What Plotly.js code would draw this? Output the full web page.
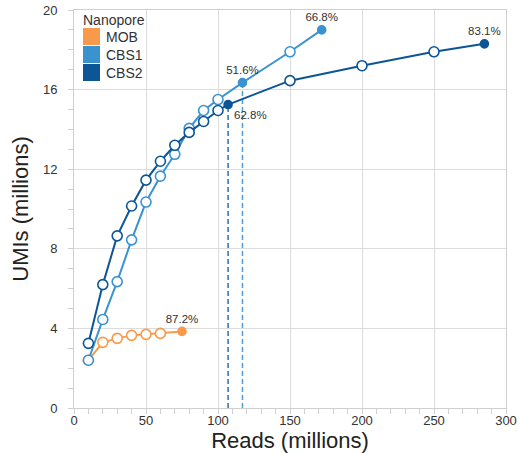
<!DOCTYPE html>
<html><head><meta charset="utf-8">
<script src="https://cdn.plot.ly/plotly-3.0.1.min.js"></script>
<style>html,body{margin:0;padding:0;background:#fff}#chart{width:518px;height:453px}</style>
</head><body><div id="chart"></div>
<script>
// Reads (millions) and UMIs (millions)
const mobReads = [10, 20, 30, 40, 50, 60, 75];
const mobUMIs  = [2.4, 3.3, 3.5, 3.65, 3.7, 3.75, 3.85];
const mobFilled = [6];
const mobLabels = {6: '87.2%'};

const cbs1Reads = [10, 20, 30, 40, 50, 60, 70, 80, 90, 100, 117, 150, 172];
const cbs1UMIs  = [2.4, 4.45, 6.35, 8.45, 10.35, 11.65, 12.75, 14.05, 14.95, 15.5, 16.35, 17.9, 19.0];
const cbs1Filled = [10, 12];
const cbs1Labels = {10: '51.6%', 12: '66.8%'};

const cbs2Reads = [10, 20, 30, 40, 50, 60, 70, 80, 90, 100, 107, 150, 200, 250, 285];
const cbs2UMIs  = [3.25, 6.2, 8.65, 10.15, 11.45, 12.4, 13.2, 13.85, 14.4, 14.95, 15.25, 16.45, 17.2, 17.9, 18.3];
const cbs2Filled = [10, 14];
const cbs2Labels = {10: '62.8%', 14: '83.1%'};

const legendTitle = 'Nanopore';
const names = ['MOB', 'CBS1', 'CBS2'];
const colors = ['#f99a4a', '#3a93cf', '#0c5596'];

const font = 'Liberation Sans, Arial, sans-serif';

function series(x, y, filled, labels, color, labelPos, name) {
  return {
    x: x, y: y, name: name, mode: 'lines+markers+text', type: 'scatter', showlegend: false,
    line: {color: color, width: 2},
    marker: {
      symbol: 'circle', opacity: 1,
      size: x.map((_, i) => filled.includes(i) ? 8 : 10),
      color: x.map((_, i) => filled.includes(i) ? color : '#ffffff'),
      line: {color: color, width: 1.6}
    },
    text: x.map((_, i) => labels[i] || ''),
    textposition: x.map((_, i) => labelPos[i] || 'top center'),
    textfont: {family: font, size: 11.5, color: '#333'},
    cliponaxis: false, hoverinfo: 'x+y'
  };
}

const traces = [
  series(mobReads, mobUMIs, mobFilled, mobLabels, colors[0], {}, names[0]),
  series(cbs1Reads, cbs1UMIs, cbs1Filled, cbs1Labels, colors[1], {}, names[1]),
  series(cbs2Reads, cbs2UMIs, cbs2Filled, cbs2Labels, colors[2], {10: 'bottom right'}, names[2])
];

// dashed drop lines at the marked points
const dropLines = [
  {x: cbs2Reads[10], y: cbs2UMIs[10], color: '#2a6fb1'},
  {x: cbs1Reads[10], y: cbs1UMIs[10], color: '#4aa0d8'}
];
const shapes = dropLines.map(d => ({
  type: 'line', xref: 'x', yref: 'y', x0: d.x, x1: d.x, y0: 0, y1: d.y,
  line: {color: d.color, width: 1.5, dash: '5px,3px'}, layer: 'below'
}));

// custom legend (square swatches), positioned in plot-area pixels
const M = {l: 74, r: 12, t: 10, b: 45}, W = 518, H = 453;
const pw = W - M.l - M.r, ph = H - M.t - M.b;
const px = v => (v - M.l) / pw, py = v => (H - M.b - v) / ph;
const annotations = [{
  xref: 'paper', yref: 'paper', x: px(81), y: py(20), xanchor: 'left', yanchor: 'middle',
  text: legendTitle, showarrow: false, font: {family: font, size: 14, color: '#333'}
}];
names.forEach((n, i) => {
  const top = 28 + i * 18;
  shapes.push({
    type: 'rect', xref: 'paper', yref: 'paper',
    x0: px(83), x1: px(100), y0: py(top), y1: py(top + 17),
    fillcolor: colors[i], line: {width: 0}
  });
  annotations.push({
    xref: 'paper', yref: 'paper', x: px(104), y: py(top + 8.5), xanchor: 'left', yanchor: 'middle',
    text: n, showarrow: false, font: {family: font, size: 14, color: '#333'}
  });
});

const layout = {
  width: W, height: H,
  margin: M,
  paper_bgcolor: '#fff', plot_bgcolor: '#fff',
  font: {family: font, color: '#333'},
  showlegend: false,
  xaxis: {
    range: [0, 300], dtick: 50, tick0: 0,
    showgrid: true, gridcolor: '#dcdcdc', gridwidth: 1,
    zeroline: false, showline: true, linecolor: '#cfcfcf', mirror: true,
    ticks: 'outside', ticklen: 5, tickcolor: '#cfcfcf',
    minor: {dtick: 10, ticks: 'outside', ticklen: 5, tickcolor: '#cfcfcf', showgrid: false},
    tickfont: {family: font, size: 13, color: '#333'},
    ticklabelstandoff: -5, ticklabeloverflow: 'allow',
    title: {text: 'Reads (millions)', font: {family: font, size: 22, color: '#222'}, standoff: 8}
  },
  yaxis: {
    range: [0, 20], dtick: 4, tick0: 0,
    showgrid: true, gridcolor: '#dcdcdc', gridwidth: 1,
    zeroline: false, showline: true, linecolor: '#cfcfcf', mirror: true,
    ticks: 'outside', ticklen: 5, tickcolor: '#cfcfcf',
    minor: {dtick: 1, ticks: 'outside', ticklen: 5, tickcolor: '#cfcfcf', showgrid: false},
    tickfont: {family: font, size: 13, color: '#333'},
    ticklabelstandoff: 8, ticklabeloverflow: 'allow',
    title: {text: 'UMIs (millions)', font: {family: font, size: 22, color: '#222'}, standoff: 8}
  },
  shapes: shapes,
  annotations: annotations
};

Plotly.newPlot('chart', traces, layout, {displayModeBar: false, staticPlot: true});
</script></body></html>
